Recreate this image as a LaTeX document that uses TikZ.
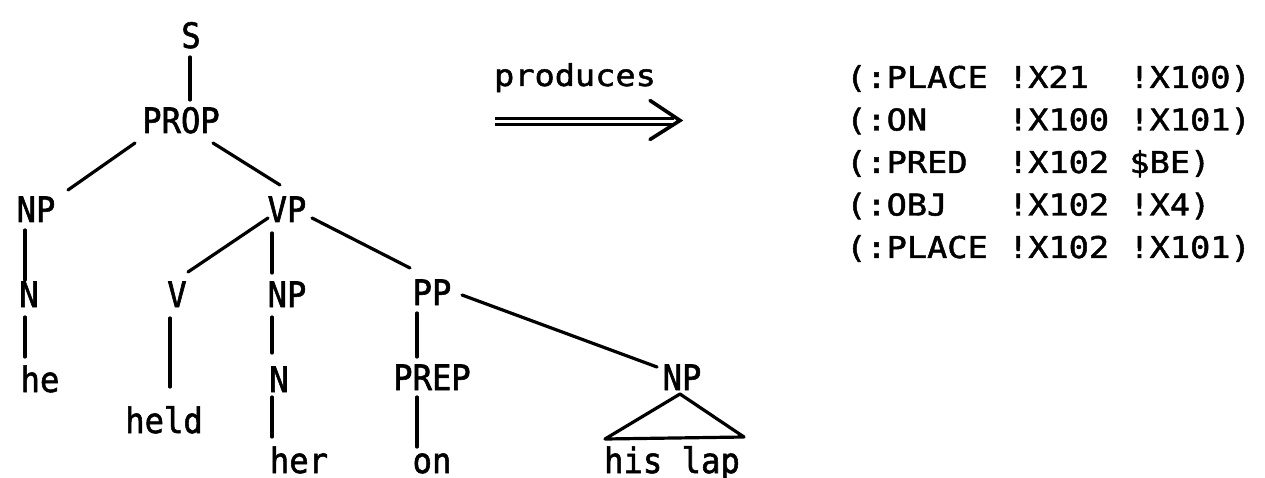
\documentclass[tikz,border=0pt]{standalone}
\usepackage{fontspec}
\newfontfamily\treefont[FakeStretch=0.92,FakeBold=1.6]{DejaVu Sans Mono}
\newfontfamily\rfont[FakeStretch=1.12,FakeBold=1.6]{DejaVu Sans Mono}
\begin{document}
\begin{tikzpicture}[x=1pt,y=-1pt,
  tw/.style={inner sep=0pt,anchor=base,font=\treefont\fontsize{35}{40}\selectfont},
  low/.style={text depth=0pt},
  rw/.style={inner sep=0pt,anchor=base west,font=\rfont\fontsize{30}{36}\selectfont},
  edge/.style={line width=3.2pt,line cap=round}]
\fill[white] (0,0) rectangle (1265,478);
\useasboundingbox (0,0) rectangle (1265,478);
% tree nodes
\node[tw] (s) at (191,48) {S};
\node[tw] (prop) at (181,133) {PROP};
\node[tw] (npl) at (36,222) {NP};
\node[tw] (vp) at (287,222) {VP};
\node[tw] (nl) at (29,307) {N};
\node[tw] (v) at (177,307) {V};
\node[tw] (npm) at (287,307) {NP};
\node[tw] (pp) at (432,305) {PP};
\node[tw] (he) at (40,392) {he};
\node[tw] (nm) at (279,392) {N};
\node[tw] (prep) at (432,390) {PREP};
\node[tw] (npr) at (682,390) {NP};
\node[tw] (held) at (164,433) {held};
\node[tw,low] (her) at (299,473) {her};
\node[tw,low] (on) at (432,473) {on};
\node[tw,low] (hislap) at (672,473) {his lap};
% tree edges
\draw[edge] ([shift={(-1,9)}]s.base) -- ([shift={(9,-33)}]prop.base);
\draw[edge] ([shift={(-46,10)}]prop.base) -- ([shift={(32,-32)}]npl.base);
\draw[edge] ([shift={(32,10)}]prop.base) -- ([shift={(-7,-37)}]vp.base);
\draw[edge] ([shift={(-11,8)}]npl.base) -- ([shift={(-4,-27)}]nl.base);
\draw[edge] ([shift={(-4,10)}]nl.base) -- ([shift={(-15,-35)}]he.base);
\draw[edge] ([shift={(-19,-4)}]vp.base) -- ([shift={(11,-35)}]v.base);
\draw[edge] ([shift={(-15,11)}]vp.base) -- ([shift={(-15,-34)}]npm.base);
\draw[edge] ([shift={(25,-4)}]vp.base) -- ([shift={(-22,-37)}]pp.base);
\draw[edge] ([shift={(-7,11)}]v.base) -- ([shift={(6,-46)}]held.base);
\draw[edge] ([shift={(-15,10)}]npm.base) -- ([shift={(-7,-39)}]nm.base);
\draw[edge] ([shift={(-7,5)}]nm.base) -- ([shift={(-27,-36)}]her.base);
\draw[edge] ([shift={(-15,8)}]pp.base) -- ([shift={(-15,-33)}]prep.base);
\draw[edge] ([shift={(-15,7)}]prep.base) -- ([shift={(-15,-26)}]on.base);
\draw[edge] ([shift={(30,-10)}]pp.base) -- ([shift={(-25,-23)}]npr.base);
% triangle under NP
\draw[edge,line join=round] ([shift={(-2,4)}]npr.base) -- ([shift={(-67,-34)}]hislap.base)
  -- ([shift={(72,-36)}]hislap.base) -- cycle;
% produces arrow
\node[inner sep=0pt,anchor=base,font=\rfont\fontsize{30}{36}\selectfont] (prod) at (575,86) {produces};
\coordinate (arrstart) at (495,121.5);
\coordinate (arrend) at (674,121.5);
\draw[line width=2.6pt,double,double distance=3pt] (arrstart) -- (arrend);
\draw[line width=3.6pt,line cap=round,line join=miter] ([shift={(-24,-21)}]arrend) -- ([shift={(6,-1)}]arrend) -- ([shift={(-24,18)}]arrend);
% right side
\node[rw] (r1) at (846,88) {(:PLACE~!X21~~!X100)};
\node[rw] (r2) at (846,130.5) {(:ON~~~~!X100~!X101)};
\node[rw] (r3) at (846,173) {(:PRED~~!X102~\$BE)};
\node[rw] (r4) at (846,215.5) {(:OBJ~~~!X102~!X4)};
\node[rw] (r5) at (846,258) {(:PLACE~!X102~!X101)};
\end{tikzpicture}
\end{document}
